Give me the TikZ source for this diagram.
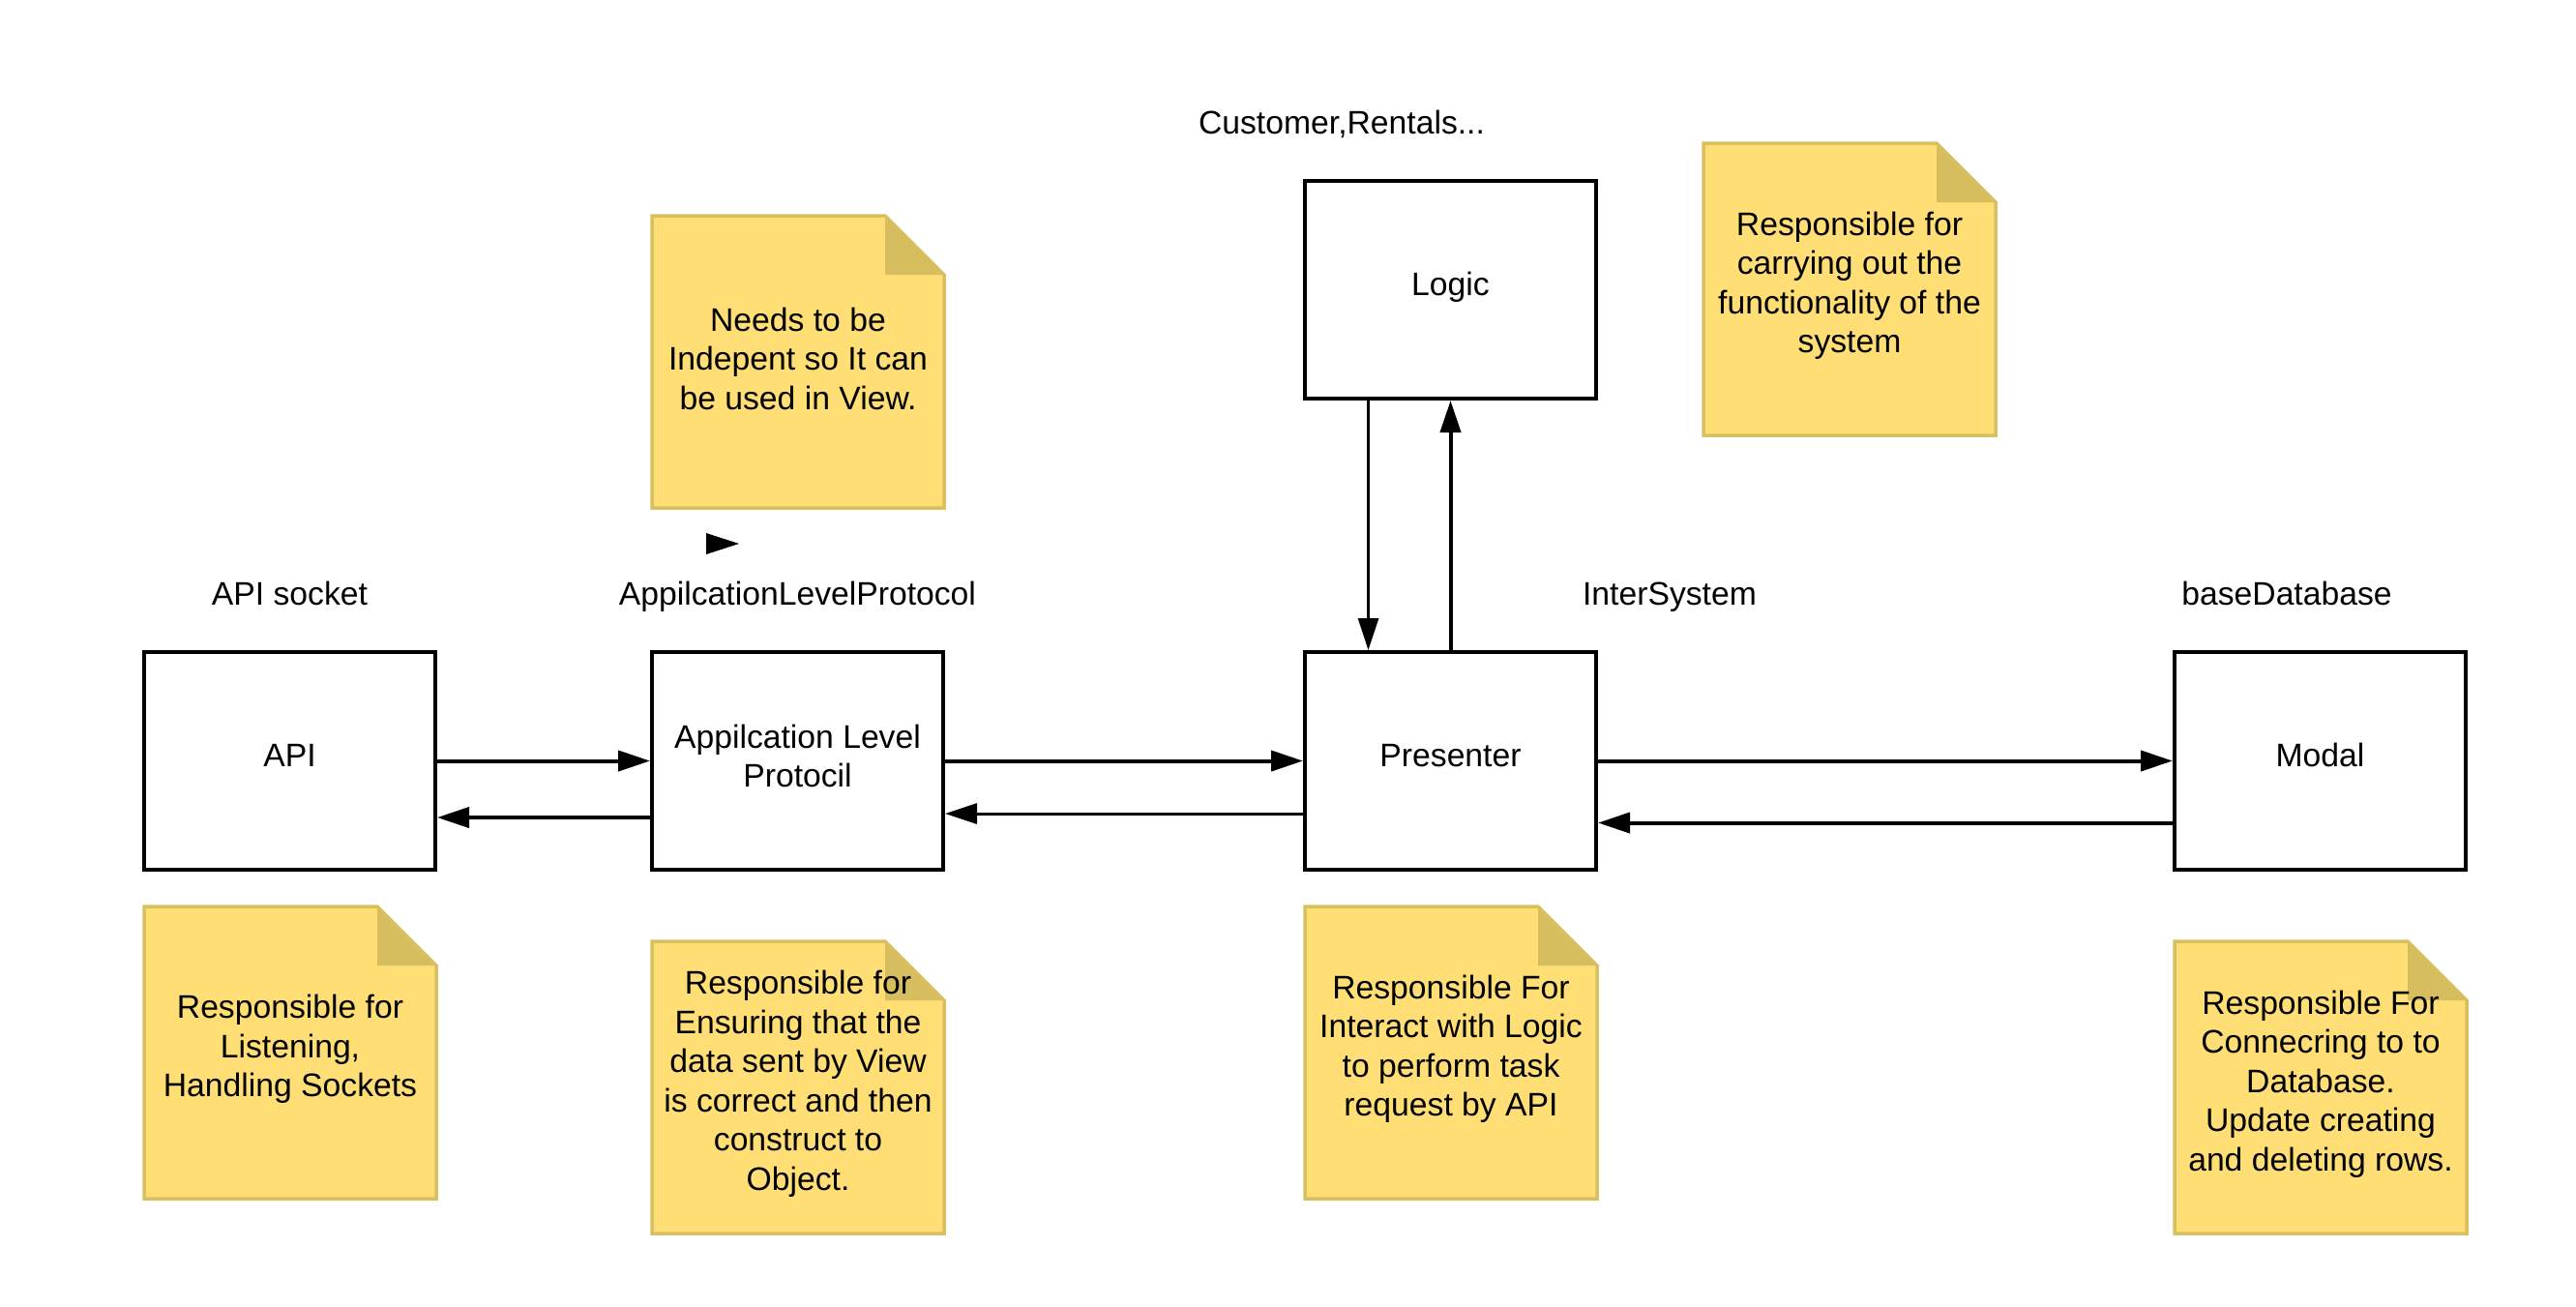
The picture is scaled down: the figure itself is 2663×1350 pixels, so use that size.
\documentclass[tikz,border=0pt]{standalone}
\usepackage{fontspec}
\setmainfont{Liberation Sans}
\usetikzlibrary{arrows.meta}
\definecolor{notefill}{HTML}{FFDE75}
\definecolor{noteedge}{HTML}{D8BF5F}
\definecolor{notefold}{HTML}{D6BD5E}
\newcommand{\diagfont}{\fontsize{33.7pt}{40.5pt}\selectfont}
\newcommand{\stickynote}[4]{%
  \fill[notefill] (#2,#3) -- ++(241,0) -- ++(61,61) -- ++(0,241) -- ++(-302,0) -- cycle;
  \fill[notefold] (#2+241,#3) -- ++(0,61) -- ++(61,0) -- cycle;
  \draw[noteedge, line width=3.5pt, line join=miter] (#2,#3) -- ++(241,0) -- ++(61,61) -- ++(0,241) -- ++(-302,0) -- cycle;
  \node[notetext] (#1) at (#2+151,#3+147.5) {#4};
}
\begin{document}
\begin{tikzpicture}[x=1pt, y=-1pt,
  box/.style={draw, line width=4pt, minimum width=301pt, minimum height=225pt, inner sep=0pt, align=center, font=\diagfont},
  oneline/.style={text height=24pt, text depth=12pt},
  boxtext/.style={inner sep=0pt, align=center, font=\diagfont},
  notetext/.style={inner sep=0pt, align=center, font=\diagfont},
  toplabel/.style={inner sep=0pt, anchor=base, font=\diagfont},
  fwd/.style={line width=4pt, -{Triangle[length=33pt, width=21pt]}},
  ret/.style={line width=3pt, -{Triangle[length=33pt, width=21pt]}}
]
\fill[white] (0,0) rectangle (2663,1350);
\useasboundingbox (0,0) rectangle (2663,1350);

% labels above
\node[toplabel] (lblcust) at (1387,138) {Customer,Rentals...};
\node[toplabel] (lblapi) at (299.5,625) {API socket};
\node[toplabel] (lblalp) at (824.5,625) {AppilcationLevelProtocol};
\node[toplabel] (lblinter) at (1726,625) {InterSystem};
\node[toplabel] (lbldb) at (2364,625) {baseDatabase};

% boxes
\node[box, oneline] (api) at (299.5,786.5) {API};
\node[box] (alp) at (824.5,786.5) {};
\node[boxtext] (alptext) at (824.5,781.5) {Appilcation Level\\Protocil};
\node[box, oneline] (pres) at (1499.5,786.5) {Presenter};
\node[box, oneline] (modal) at (2398.5,786.5) {Modal};
\node[box, oneline] (logic) at (1499.5,299.5) {Logic};

% connectors
\draw[fwd] (api.east) -- (alp.west);
\draw[fwd] ([yshift=-58.5pt]alp.west) -- ([yshift=-58.5pt]api.east);
\draw[fwd] (alp.east) -- (pres.west);
\draw[ret] ([yshift=-54.5pt]pres.west) -- ([yshift=-54.5pt]alp.east);
\draw[fwd] (pres.east) -- (modal.west);
\draw[fwd] ([yshift=-64pt]modal.west) -- ([yshift=-64pt]pres.east);
\draw[ret] ([xshift=-85pt]logic.south) -- ([xshift=-85pt]pres.north);
\draw[fwd] (pres.north) -- (logic.south);

% stray arrow head
\fill (730,551) -- (764,562) -- (730,573) -- cycle;

% sticky notes
\stickynote{noteapi}{149}{937}{Responsible for\\Listening,\\Handling Sockets}
\stickynote{notealp}{674}{973}{Responsible for\\Ensuring that the\\data sent by View\\is correct and then\\construct to\\Object.}
\stickynote{notepres}{1349}{937}{Responsible For\\Interact with Logic\\to perform task\\request by API}
\stickynote{notemodal}{2248}{973}{Responsible For\\Connecring to to\\Database.\\Update creating\\and deleting rows.}
\stickynote{noteview}{674}{223}{Needs to be\\Indepent so It can\\be used in View.}
\stickynote{notelogic}{1761}{148}{Responsible for\\carrying out the\\functionality of the\\system}
\end{tikzpicture}
\end{document}
